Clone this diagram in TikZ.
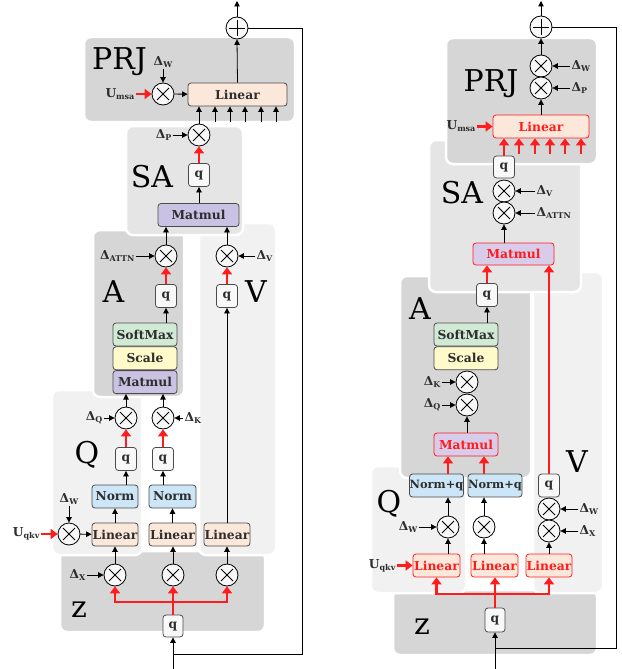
\documentclass[tikz,border=0pt]{standalone}
\usepackage{fontspec}
\setmainfont{DejaVu Serif}
\usetikzlibrary{positioning, arrows.meta, calc}
\definecolor{panelDark}{RGB}{214,214,214}
\definecolor{panelMid}{RGB}{229,229,229}
\definecolor{panelLight}{RGB}{241,241,241}
\definecolor{opFill}{RGB}{248,248,248}
\definecolor{linFill}{RGB}{252,232,218}
\definecolor{normFill}{RGB}{204,230,248}
\definecolor{smFill}{RGB}{208,234,214}
\definecolor{scFill}{RGB}{254,250,202}
\definecolor{mmFill}{RGB}{202,194,226}
\definecolor{mmFillR}{RGB}{216,204,234}
\definecolor{hot}{RGB}{255,28,28}
\definecolor{ink}{RGB}{45,45,45}
\definecolor{edge}{RGB}{75,75,75}
\tikzset{
  panel/.style={draw=white, line width=2.5pt, rounded corners=7pt},
  op/.style={circle, draw, fill=opFill, minimum size=22pt, inner sep=0pt, line width=0.8pt},
  mul/.style={op, path picture={
      \draw[line width=0.8pt] ([shift={(-6pt,-6pt)}]path picture bounding box.center) -- ([shift={(6pt,6pt)}]path picture bounding box.center);
      \draw[line width=0.8pt] ([shift={(-6pt,6pt)}]path picture bounding box.center) -- ([shift={(6pt,-6pt)}]path picture bounding box.center);}},
  add/.style={op, path picture={
      \draw[line width=0.8pt] ([xshift=-8pt]path picture bounding box.center) -- ([xshift=8pt]path picture bounding box.center);
      \draw[line width=0.8pt] ([yshift=-8pt]path picture bounding box.center) -- ([yshift=8pt]path picture bounding box.center);}},
  blk/.style={rectangle, rounded corners=3pt, draw=edge, line width=0.8pt, inner sep=0pt, minimum height=23pt, font=\bfseries\fontsize{12.3}{13}\selectfont, text=ink},
  hotblk/.style={blk, draw=hot, text=hot},
  qbox/.style={blk, fill=opFill, minimum width=21pt, minimum height=23pt},
  tag/.style={font=\fontsize{30}{30}\selectfont, anchor=base, inner sep=0pt},
  dl/.style={font=\bfseries\fontsize{12.3}{13}\selectfont, text=ink, inner sep=1pt},
  arr/.style={-{Triangle[length=5.5pt, width=5.5pt]}, line width=0.8pt},
  hotarr/.style={-{Triangle[length=7pt, width=10pt]}, line width=2.8pt, draw=hot}
}
\newcommand{\symsub}[2]{#1\raisebox{-0.3ex}{\fontsize{8}{8}\selectfont #2}}

\begin{document}
\begin{tikzpicture}[x=1pt, y=-1pt]
  \useasboundingbox (0,0) rectangle (621,669);

  % ===== LEFT: panels, back to front
  \draw[panel, fill=panelDark] (60,551) rectangle (265,632);   % z
  \draw[panel, fill=panelLight] (52,390) rectangle (142,555);  % Q
  \draw[panel, fill=panelLight] (199,223) rectangle (276,555); % V
  \draw[panel, fill=panelDark] (93,230) rectangle (184,397);   % A
  \draw[panel, fill=panelMid] (126,126) rectangle (243,235);   % SA
  \draw[panel, fill=panelDark] (84,37) rectangle (295,122);    % PRJ

  \node[tag] (TagPRJL) at (119.5,70) {PRJ};
  \node[tag] (TagSAL) at (152,187) {SA};
  \node[tag] (TagAL) at (113.5,302) {A};
  \node[tag] (TagVL) at (256,302) {V};
  \node[tag] (TagQL) at (87,463) {Q};
  \node[tag] (TagZL) at (79,617) {z};

  % PRJ
  \node[add] (PlusL) at (237,28) {};
  \coordinate (OutL) at (237,1);
  \node[mul] (MulWL) at (163,94) {};
  \node[dl, above=14pt of MulWL] (DwPL) {\symsub{Δ}{W}};
  \node[dl, left=16pt of MulWL] (UmsaL) {\symsub{U}{msa}};
  \node[blk, fill=linFill, minimum width=99pt] (LinPL) at (237.5,94.5) {Linear};

  % SA
  \node[mul] (MulPL) at (199,135) {};
  \node[dl, left=15pt of MulPL] (DpL) {\symsub{Δ}{P}};
  \node[qbox] (QSAL) at (199,175) {q};
  \node[blk, fill=mmFill, minimum width=81pt] (MmSAL) at (198.5,215) {Matmul};

  % A
  \node[mul] (MulAL) at (166,256) {};
  \node[dl, left=19pt of MulAL] (DattnL) {\symsub{Δ}{ATTN}};
  \node[qbox] (QAL) at (166,296) {q};
  \node[blk, fill=smFill, minimum width=64pt] (SmL) at (145,334.5) {SoftMax};
  \node[blk, fill=scFill, minimum width=64pt, below=0pt of SmL] (ScL) {Scale};
  \node[blk, fill=mmFill, minimum width=64pt, below=0pt of ScL] (MmAL) {Matmul};

  % V
  \node[mul] (MulVL) at (227,256) {};
  \node[dl, right=17pt of MulVL] (DvL) {\symsub{Δ}{V}};
  \node[qbox] (QVL) at (227,296) {q};

  % Q / K
  \node[mul] (MulQL) at (126,418) {};
  \node[dl, left=11pt of MulQL] (DqL) {\symsub{Δ}{Q}};
  \node[mul] (MulKL) at (163,418) {};
  \node[dl, right=9pt of MulKL] (DkL) {\symsub{Δ}{K}};
  \node[qbox] (QQL) at (126,459) {q};
  \node[qbox] (QKL) at (163,459) {q};
  \node[blk, fill=normFill, minimum width=46pt] (NormQL) at (115,496.5) {Norm};
  \node[blk, fill=normFill, minimum width=47pt] (NormKL) at (172.5,496.5) {Norm};
  \node[blk, fill=linFill, minimum width=46pt] (LinQL) at (115,534.5) {Linear};
  \node[blk, fill=linFill, minimum width=47pt] (LinKL) at (172.5,534.5) {Linear};
  \node[blk, fill=linFill, minimum width=46pt] (LinVL) at (227,534.5) {Linear};
  \node[mul] (MulUL) at (69,534) {};
  \node[dl, above=17pt of MulUL] (DwQL) {\symsub{Δ}{W}};
  \node[dl, left=17pt of MulUL] (UqkvL) {\symsub{U}{qkv}};

  % z
  \node[mul] (MulZ1L) at (115,575) {};
  \node[mul] (MulZ2L) at (173,575) {};
  \node[mul] (MulZ3L) at (227,575) {};
  \node[dl, left=17pt of MulZ1L] (DxL) {\symsub{Δ}{X}};
  \node[qbox, minimum width=20pt, minimum height=22pt] (QZL) at (173,626) {q};
  \coordinate (BrL) at (173,602);
  \coordinate (InL) at (173,669);
  \coordinate (FbL) at (302,654);

  % edges
  \draw[arr] (PlusL.north) -- (OutL);
  \draw[arr] (LinPL.north) -- (PlusL.south);
  \draw[arr] (DwPL) -- (MulWL);
  \draw[hotarr] (UmsaL) -- (MulWL);
  \draw[arr] (MulWL) -- (LinPL);
  \draw[arr] (MulPL.north) -- (MulPL |- LinPL.south);
  \foreach \i/\x in {1/215, 2/230, 3/245, 4/261, 5/276} {
    \coordinate (PinL\i) at (\x,122);
    \draw[arr] (PinL\i) -- (PinL\i |- LinPL.south);
  }
  \draw[arr] (DpL) -- (MulPL);
  \draw[hotarr] (QSAL) -- (MulPL);
  \draw[arr] (MmSAL.north -| QSAL) -- (QSAL);
  \draw[arr] (MulAL.north) -- (MulAL |- MmSAL.south);
  \draw[arr] (MulVL.north) -- (MulVL |- MmSAL.south);
  \draw[arr] (DattnL) -- (MulAL);
  \draw[hotarr] (QAL) -- (MulAL);
  \draw[arr] (SmL.north -| QAL) -- (QAL);
  \draw[arr] (DvL) -- (MulVL);
  \draw[hotarr] (QVL) -- (MulVL);
  \draw[arr] (LinVL) -- (QVL);
  \draw[arr] (MulQL.north) -- (MulQL |- MmAL.south);
  \draw[arr] (MulKL.north) -- (MulKL |- MmAL.south);
  \draw[arr] (DqL) -- (MulQL);
  \draw[arr] (DkL) -- (MulKL);
  \draw[hotarr] (QQL) -- (MulQL);
  \draw[hotarr] (QKL) -- (MulKL);
  \draw[arr] (NormQL.north -| QQL) -- (QQL);
  \draw[arr] (NormKL.north -| QKL) -- (QKL);
  \draw[arr] (LinQL) -- (NormQL);
  \draw[arr] (LinKL) -- (NormKL);
  \draw[arr] (DwQL) -- (MulUL);
  \draw[hotarr] (UqkvL) -- (MulUL);
  \draw[arr] (MulUL) -- (LinQL);
  \draw[arr] (MulZ1L.north) -- (MulZ1L |- LinQL.south);
  \draw[arr] (MulZ2L.north) -- (MulZ2L |- LinKL.south);
  \draw[arr] (MulZ3L.north) -- (MulZ3L |- LinVL.south);
  \draw[arr] (DxL) -- (MulZ1L);
  \draw[hotarr] (QZL) -- (MulZ2L);
  \draw[hotarr] (BrL) -| (MulZ1L.south);
  \draw[hotarr] (BrL) -| (MulZ3L.south);
  \draw[arr] (InL) -- (QZL);
  \draw[line width=0.8pt] (PlusL.east) -| (FbL) -- (FbL -| InL);

  % ===== RIGHT: panels, back to front
  \draw[panel, fill=panelDark] (393,590) rectangle (597,655);  % z
  \draw[panel, fill=panelLight] (371,466) rectangle (466,593); % Q
  \draw[panel, fill=panelLight] (533,272) rectangle (603,593); % V
  \draw[panel, fill=panelDark] (400,276) rectangle (531,478);  % A
  \draw[panel, fill=panelMid] (429,140) rectangle (581,292);   % SA
  \draw[panel, fill=panelDark] (446,38) rectangle (597,164);   % PRJ

  \node[tag] (TagPRJR) at (491,91) {PRJ};
  \node[tag] (TagSAR) at (462,203) {SA};
  \node[tag] (TagAR) at (420,319) {A};
  \node[tag] (TagVR) at (577,472) {V};
  \node[tag] (TagQR) at (389,512) {Q};
  \node[tag] (TagZR) at (422,634) {z};

  % PRJ
  \node[add] (PlusR) at (541,27) {};
  \coordinate (OutR) at (541,1);
  \node[mul] (MulWR) at (541,66) {};
  \node[mul] (MulPR) at (541,88) {};
  \node[dl, right=18pt of MulWR] (DwPR) {\symsub{Δ}{W}};
  \node[dl, right=18pt of MulPR] (DpR) {\symsub{Δ}{P}};
  \node[hotblk, fill=linFill, minimum width=96pt] (LinPR) at (541,126.5) {Linear};
  \node[dl, left=16pt of LinPR] (UmsaR) {\symsub{U}{msa}};

  % SA
  \node[qbox, minimum height=22pt] (QSAR) at (504,167) {q};
  \node[mul] (MulVR) at (504,191) {};
  \node[mul] (MulAR) at (504,213) {};
  \node[dl, right=20pt of MulVR] (DvR) {\symsub{Δ}{V}};
  \node[dl, right=20pt of MulAR] (DattnR) {\symsub{Δ}{ATTN}};
  \node[hotblk, fill=mmFillR, minimum width=81pt, minimum height=22pt] (MmSAR) at (513.5,254) {Matmul};

  % A
  \node[qbox] (QAR) at (487,295) {q};
  \node[blk, fill=smFill, minimum width=64pt] (SmR) at (466,334.5) {SoftMax};
  \node[blk, fill=scFill, minimum width=64pt, below=0pt of SmR] (ScR) {Scale};
  \node[mul] (MulKR) at (467,382) {};
  \node[mul] (MulQR) at (467,405) {};
  \node[dl, left=14pt of MulKR] (DkR) {\symsub{Δ}{K}};
  \node[dl, left=14pt of MulQR] (DqR) {\symsub{Δ}{Q}};
  \node[hotblk, fill=mmFillR, minimum width=64pt] (MmAR) at (466,444.5) {Matmul};

  % Q / K / V
  \node[blk, fill=normFill, minimum width=54pt, font=\bfseries\fontsize{11.4}{12}\selectfont] (NqQR) at (436.5,485.5) {Norm+q};
  \node[blk, fill=normFill, minimum width=54pt, font=\bfseries\fontsize{11.4}{12}\selectfont] (NqKR) at (495,485.5) {Norm+q};
  \node[qbox] (QVR) at (549,485.5) {q};
  \node[mul] (MulXQR) at (448,527) {};
  \node[mul] (MulXKR) at (484,527) {};
  \node[dl, left=18pt of MulXQR] (DwQR) {\symsub{Δ}{W}};
  \node[mul] (MulWVR) at (549,509) {};
  \node[mul] (MulXVR) at (549,531) {};
  \node[dl, right=18pt of MulWVR] (DwVR) {\symsub{Δ}{W}};
  \node[dl, right=18pt of MulXVR] (DxVR) {\symsub{Δ}{X}};
  \node[hotblk, fill=linFill, minimum width=47pt] (LinQR) at (436.5,565.5) {Linear};
  \node[hotblk, fill=linFill, minimum width=47pt] (LinKR) at (494.5,565.5) {Linear};
  \node[hotblk, fill=linFill, minimum width=46pt] (LinVR) at (549,565.5) {Linear};
  \node[dl, left=16pt of LinQR] (UqkvR) {\symsub{U}{qkv}};

  % z
  \node[qbox, minimum width=20pt, minimum height=24pt] (QZR) at (495,620) {q};
  \coordinate (BrR) at (495,594);
  \coordinate (InR) at (495,669);
  \coordinate (FbR) at (616,648);

  % edges
  \draw[arr] (PlusR.north) -- (OutR);
  \draw[arr] (MulWR) -- (PlusR);
  \draw[arr] (LinPR.north) -- (MulPR);
  \draw[arr] (DwPR) -- (MulWR);
  \draw[arr] (DpR) -- (MulPR);
  \draw[hotarr] (UmsaR) -- (LinPR);
  \draw[hotarr] (QSAR) -- (QSAR |- LinPR.south);
  \foreach \i/\x in {1/519, 2/535, 3/550, 4/565, 5/581} {
    \coordinate (PinR\i) at (\x,154);
    \draw[hotarr] (PinR\i) -- (PinR\i |- LinPR.south);
  }
  \draw[arr] (DvR) -- (MulVR);
  \draw[arr] (DattnR) -- (MulAR);
  \draw[arr] (MmSAR.north -| MulAR) -- (MulAR);
  \draw[hotarr] (QAR) -- (QAR |- MmSAR.south);
  \draw[hotarr] (QVR) -- (QVR |- MmSAR.south);
  \draw[arr] (SmR.north -| QAR) -- (QAR);
  \draw[arr] (DkR) -- (MulKR);
  \draw[arr] (DqR) -- (MulQR);
  \draw[arr] (MmAR.north -| MulQR) -- (MulQR);
  \draw[hotarr] (NqQR.north -| MulXQR) -- (MulXQR |- MmAR.south);
  \draw[hotarr] (NqKR.north -| MulXKR) -- (MulXKR |- MmAR.south);
  \draw[arr] (MulXQR) -- (MulXQR |- NqQR.south);
  \draw[arr] (MulXKR) -- (MulXKR |- NqKR.south);
  \draw[arr] (DwQR) -- (MulXQR);
  \draw[arr] (LinQR.north -| MulXQR) -- (MulXQR);
  \draw[arr] (LinKR.north -| MulXKR) -- (MulXKR);
  \draw[arr] (DwVR) -- (MulWVR);
  \draw[arr] (DxVR) -- (MulXVR);
  \draw[arr] (LinVR) -- (MulXVR);
  \draw[hotarr] (UqkvR) -- (LinQR);
  \draw[hotarr] (QZR.north) -- (QZR |- LinKR.south);
  \draw[hotarr] (BrR) -| (LinQR.south);
  \draw[hotarr] (BrR) -| (LinVR.south);
  \draw[arr] (InR) -- (QZR);
  \draw[line width=0.8pt] (PlusR.east) -| (FbR) -- (FbR -| InR);

\end{tikzpicture}
\end{document}
